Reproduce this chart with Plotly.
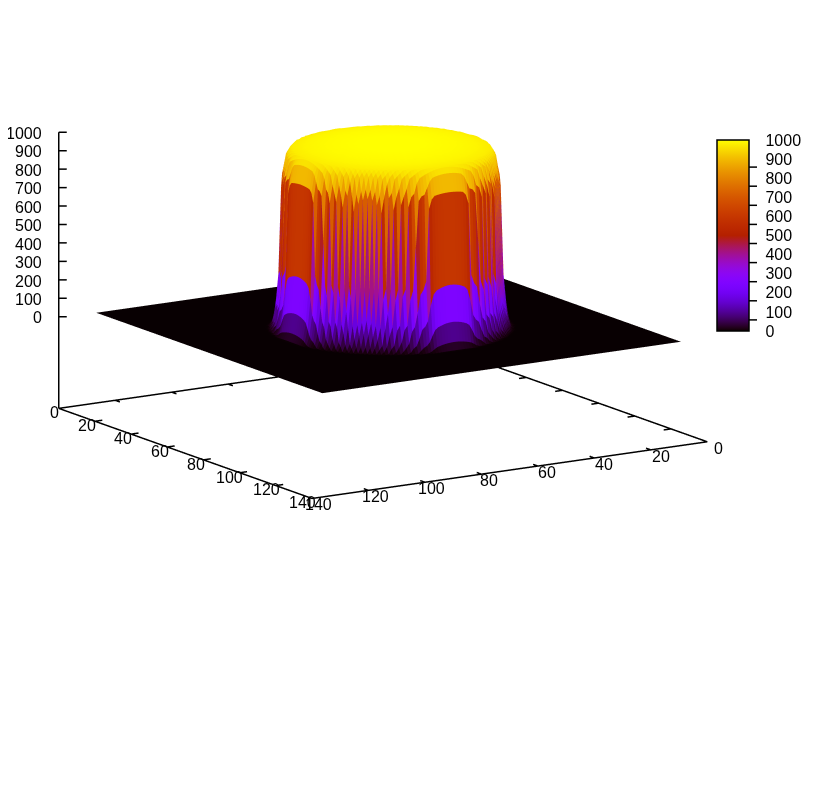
import math
import numpy as np
import plotly.graph_objects as go

# Radial height profile (distance from the centre -> height)
profile_r = [0, 10, 20, 26, 30, 31, 31.5, 32, 32.5, 32.8, 33, 33.5, 33.8, 34, 34.5, 35, 35.5, 36, 37, 70, 100]
profile_z = [1000, 998, 992, 985, 975, 945, 930, 846, 835, 760, 348, 320, 230, 150, 125, 45, 30, 4, 2, 2, 2]
grid_x_first, grid_x_last, centre_x = 1, 128, 64
grid_y_first, grid_y_last, centre_y = 2, 127, 65
xy_ticks = [0, 20, 40, 60, 80, 100, 120, 140]
z_ticks = [0, 100, 200, 300, 400, 500, 600, 700, 800, 900, 1000]
xy_frame = [0, 140]
z_frame = [-497, 1000]
xy_range = [-2, 142]
z_range = [-517, 1020]

# gnuplot palette rgbformulae 7,5,15
stops = np.concatenate([[0, 0.001, 0.002, 0.005, 0.01], np.linspace(0.025, 1, 40)])
palette = []
for s in stops:
    r = math.sqrt(s)
    g = s ** 3
    b = max(0.0, math.sin(2 * math.pi * s))
    palette.append([float(s), f"rgb({round(r*255)},{round(g*255)},{round(b*255)})"])

xs = np.arange(grid_x_first, grid_x_last + 1, dtype=float)
ys = np.arange(grid_y_first, grid_y_last + 1, dtype=float)
X, Y = np.meshgrid(xs, ys, indexing="ij")
Z = np.interp(np.hypot(X - centre_x, Y - centre_y), profile_r, profile_z)

idx = np.arange(xs.size * ys.size).reshape(xs.size, ys.size)
a = idx[:-1, :-1].ravel(); b = idx[1:, :-1].ravel(); c = idx[1:, 1:].ravel(); d = idx[:-1, 1:].ravel()
zf = Z.ravel()
quad_mean = (zf[a] + zf[b] + zf[c] + zf[d]) / 4
i = np.concatenate([a, a]); j = np.concatenate([b, c]); k = np.concatenate([c, d])
intensity = np.concatenate([quad_mean, quad_mean])

CB_LEFT, CB_RIGHT, CB_TOP, CB_BOTTOM = 717, 749, 140, 331
W, H = 820, 800

fig = go.Figure()
fig.add_trace(go.Mesh3d(
    x=X.ravel(), y=Y.ravel(), z=zf, i=i, j=j, k=k,
    intensity=intensity, intensitymode="cell",
    colorscale=palette, cmin=0, cmax=1000,
    flatshading=True,
    lighting=dict(ambient=1, diffuse=0, specular=0, roughness=1, fresnel=0),
    hoverinfo="skip",
    colorbar=dict(
        x=(CB_LEFT - 8) / W, xanchor="left", xref="paper",
        y=1 - ((CB_TOP + CB_BOTTOM) / 2 - 8) / H, yanchor="middle", yref="paper",
        len=(CB_BOTTOM - CB_TOP) / H, lenmode="fraction",
        thickness=CB_RIGHT - CB_LEFT, thicknessmode="pixels",
        xpad=0, ypad=0,
        tickmode="array", tickvals=z_ticks, ticktext=[str(t) for t in z_ticks],
        ticks="outside", ticklen=13, tickcolor="rgba(0,0,0,0)", tickwidth=1,
        outlinecolor="black", outlinewidth=1.5,
        tickfont=dict(family="Liberation Sans", size=16, color="black"),
    ),
))

lo, hi = xy_frame
zb = z_frame[0]
tick_len = 2.6

# frame: floor edges and vertical z axis
frame_x = [lo, hi, hi, lo, lo, None, hi, hi, None]
frame_y = [lo, lo, hi, hi, lo, None, lo, lo, None]
frame_z = [zb] * 5 + [None, zb, z_ticks[-1], None]

# tick marks on all four floor edges, and on the z axis
tx, ty, tz = [], [], []
for v in xy_ticks[1:-1]:
    tx += [v, v, None, v, v, None, hi, hi - tick_len, None, lo, lo + tick_len, None]
    ty += [lo, lo + tick_len, None, hi, hi - tick_len, None, v, v, None, v, v, None]
    tz += [zb, zb, None] * 4
for v in z_ticks:
    tx += [hi, hi - 2.01, None]
    ty += [lo, lo + 1.27, None]
    tz += [v, v, None]

fig.add_trace(go.Scatter3d(
    x=frame_x + tx, y=frame_y + ty, z=frame_z + tz,
    mode="lines", line=dict(color="black", width=3),
    showlegend=False, hoverinfo="skip", connectgaps=False,
))

LABEL_FONT = dict(family="Liberation Sans", size=16, color="black")
annotations = []
for v in z_ticks:
    annotations.append(dict(x=hi, y=lo, z=v, text=str(v), showarrow=False, font=LABEL_FONT,
                            xanchor="right", yanchor="middle", xshift=-15, yshift=-1))
# y (left-hand) axis labels
for v in xy_ticks:
    annotations.append(dict(x=hi, y=v, z=zb, text=str(v), showarrow=False, font=LABEL_FONT,
                            xanchor="right", yanchor="middle", xshift=round(2 + 0.03 * v), yshift=-4))
# x (right-hand) axis labels
for v in xy_ticks:
    annotations.append(dict(x=v, y=hi, z=zb, text=str(v), showarrow=False, font=LABEL_FONT,
                            xanchor="center", yanchor="middle", xshift=round(11 - 0.037 * v), yshift=-6))

# colour-bar tick marks, both sides
shapes = []
for v in z_ticks[1:-1]:
    yp = 1 - (CB_BOTTOM - (CB_BOTTOM - CB_TOP) * v / 1000) / H
    for x0, x1 in ((CB_LEFT, CB_LEFT + 8), (CB_RIGHT - 8, CB_RIGHT)):
        shapes.append(dict(type="line", xref="paper", yref="paper", x0=x0 / W, x1=x1 / W,
                           y0=yp, y1=yp, line=dict(color="black", width=1.5), layer="above"))

axis_common = dict(
    showbackground=False, showgrid=False, zeroline=False, showspikes=False,
    showline=False, ticks="", showticklabels=False,
    title=dict(text=""), tickmode="array",
)

elev = math.radians(13.05)
cosphi, sinphi = 0.536, 0.844
dist = 1.9
zoom = 1.616 * 1.009 * 1.0166 * 1.0086 * 1.0082
x_aspect = 0.9955 * zoom * (xy_range[1] - xy_range[0]) / (xy_frame[1] - xy_frame[0])
y_aspect = 1.0045 * zoom * (xy_range[1] - xy_range[0]) / (xy_frame[1] - xy_frame[0])
z_aspect = 0.6028 * zoom * (z_range[1] - z_range[0]) / (z_frame[1] - z_frame[0])
fig.update_layout(
    width=W, height=H,
    margin=dict(l=0, r=0, t=0, b=0),
    paper_bgcolor="white",
    showlegend=False,
    shapes=shapes,
    scene=dict(
        domain=dict(x=[0, 750 / 820], y=[1 - 558.4 / 800, 1]),
        xaxis=dict(range=xy_range, tickvals=xy_ticks, **axis_common),
        yaxis=dict(range=xy_range, tickvals=xy_ticks, **axis_common),
        zaxis=dict(range=z_range, tickvals=z_ticks, **axis_common),
        aspectmode="manual",
        aspectratio=dict(x=x_aspect, y=y_aspect, z=z_aspect),
        annotations=annotations,
        camera=dict(
            projection=dict(type="orthographic"),
            up=dict(x=0, y=0, z=1),
            center=dict(x=0, y=0, z=0),
            eye=dict(
                x=dist * math.cos(elev) * cosphi,
                y=dist * math.cos(elev) * sinphi,
                z=dist * math.sin(elev),
            ),
        ),
    ),
)
fig.write_html("out.html")
